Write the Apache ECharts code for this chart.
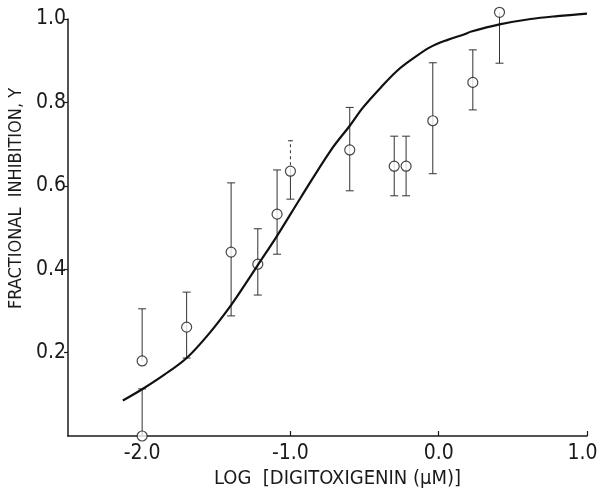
<!DOCTYPE html>
<html>
<head>
<meta charset="utf-8">
<script src="https://cdn.jsdelivr.net/npm/echarts@6/dist/echarts.min.js"></script>
<style>
html,body{margin:0;padding:0;background:#fff;}
#chart{width:599px;height:495px;}
</style>
</head>
<body>
<div id="chart"></div>
<script>
// Data points (log concentration, fractional inhibition) with error bar ends
const xVals  = [-2.00, -2.00, -1.70, -1.40, -1.22, -1.09, -1.00, -0.60, -0.30, -0.22, -0.04, 0.23, 0.41];
const yVals  = [ 0.180, 0.000, 0.261, 0.441, 0.412, 0.532, 0.635, 0.686, 0.647, 0.647, 0.756, 0.848, 1.016];
const yHigh  = [ 0.305, 0.113, 0.345, 0.607, 0.497, 0.638, 0.708, 0.788, 0.719, 0.719, 0.895, 0.926, 1.016];
const yLow   = [ 0.180, 0.000, 0.187, 0.288, 0.338, 0.436, 0.568, 0.588, 0.576, 0.576, 0.629, 0.782, 0.894];

// Fitted curve
const curveX = [-2.13, -2.00, -1.85, -1.70, -1.55, -1.40, -1.29, -1.22, -1.09, -0.93, -0.73, -0.60, -0.51, -0.39, -0.28, -0.17, -0.06, 0.06, 0.17, 0.22, 0.41, 0.62, 0.80, 1.00];
const curveY = [0.085, 0.112, 0.147, 0.187, 0.245, 0.314, 0.372, 0.410, 0.480, 0.572, 0.684, 0.744, 0.788, 0.836, 0.876, 0.906, 0.932, 0.950, 0.963, 0.970, 0.987, 1.000, 1.007, 1.013];

const xTicks = [-2, -1, 0, 1];
const yTicks = [0.2, 0.4, 0.6, 0.8, 1.0];
const xTitle = 'LOG  [DIGITOXIGENIN (\u03bcM)]';
const yTitle = 'FRACTIONAL  INHIBITION, Y';

const FONT = "'Liberation Sans Narrow', 'DejaVu Sans Condensed', 'Liberation Sans', sans-serif";
const INK = '#1a1a1a';

const points = xVals.map((x, i) => [x, yVals[i]]);
const bars = xVals.map((x, i) => [x, yVals[i], yLow[i], yHigh[i], i === 6 ? 1 : 0]);
const curve = curveX.map((x, i) => [x, curveY[i]]);

const chart = echarts.init(document.getElementById('chart'), null, {renderer: 'canvas'});
chart.setOption({
  backgroundColor: '#fff',
  animation: false,
  grid: {left: 68, right: 12, top: 19, bottom: 59, outerBoundsMode: 'none', containLabel: false},
  xAxis: {
    type: 'value', min: -2.5, max: 1.0,
    name: xTitle, nameLocation: 'middle', nameGap: 33, nameMoveOverlap: false,
    nameTextStyle: {fontFamily: FONT, fontSize: 20, color: INK, padding: [0, 0, 0, 20]},
    axisLine: {show: true, onZero: false, lineStyle: {color: INK, width: 1.5}},
    axisTick: {show: true, inside: true, length: 5, customValues: xTicks, lineStyle: {color: INK, width: 1.2}},
    axisLabel: {
      customValues: xTicks,
      formatter: v => v >= 1 ? '{r|' + v.toFixed(1) + '}' : v.toFixed(1),
      rich: {r: {fontFamily: FONT, fontSize: 21, color: INK, padding: [0, 9, 0, 0]}},
      fontFamily: FONT, fontSize: 21, color: INK, margin: 7
    },
    splitLine: {show: false}
  },
  yAxis: {
    type: 'value', min: 0, max: 1.0,
    name: yTitle, nameLocation: 'middle', nameGap: 40, nameRotate: 90,
    nameTextStyle: {fontFamily: FONT, fontSize: 18, color: INK, padding: [0, 0, 0, 58]},
    axisLine: {show: true, onZero: false, lineStyle: {color: INK, width: 1.5}},
    axisTick: {show: true, inside: false, length: 4, customValues: yTicks, lineStyle: {color: INK, width: 1.2}},
    axisLabel: {customValues: yTicks, formatter: v => v.toFixed(1), fontFamily: FONT, fontSize: 21, color: INK, margin: 2},
    splitLine: {show: false}
  },
  series: [
    {
      type: 'custom',
      data: bars,
      clip: false,
      z: 2,
      renderItem: function (params, api) {
        const x = api.value(0);
        const p = api.coord([x, api.value(1)]);
        const lo = api.coord([x, api.value(2)]);
        const hi = api.coord([x, api.value(3)]);
        const dashedUp = api.value(4) === 1;
        const cap = 4;
        const children = [];
        const st = {stroke: '#333', lineWidth: 1};
        if (hi[1] < p[1] - 1) {
          children.push({type: 'line', shape: {x1: p[0], y1: p[1], x2: hi[0], y2: hi[1]},
            style: dashedUp ? {stroke: '#333', lineWidth: 1, lineDash: [3, 3]} : st});
          children.push({type: 'line', shape: {x1: hi[0] - (dashedUp ? 2.5 : cap), y1: hi[1], x2: hi[0] + (dashedUp ? 2.5 : cap), y2: hi[1]}, style: st});
        }
        if (lo[1] > p[1] + 1) {
          children.push({type: 'line', shape: {x1: p[0], y1: p[1], x2: lo[0], y2: lo[1]}, style: st});
          children.push({type: 'line', shape: {x1: lo[0] - cap, y1: lo[1], x2: lo[0] + cap, y2: lo[1]}, style: st});
        }
        return {type: 'group', children: children};
      }
    },
    {
      type: 'scatter',
      data: points,
      clip: false,
      z: 3,
      symbol: 'circle',
      symbolSize: 10,
      itemStyle: {color: '#fff', borderColor: INK, borderWidth: 1.2}
    },
    {
      type: 'line',
      data: curve,
      smooth: 0.35,
      showSymbol: false,
      clip: false,
      z: 4,
      lineStyle: {color: '#111', width: 2.2}
    }
  ]
});
</script>
</body>
</html>
